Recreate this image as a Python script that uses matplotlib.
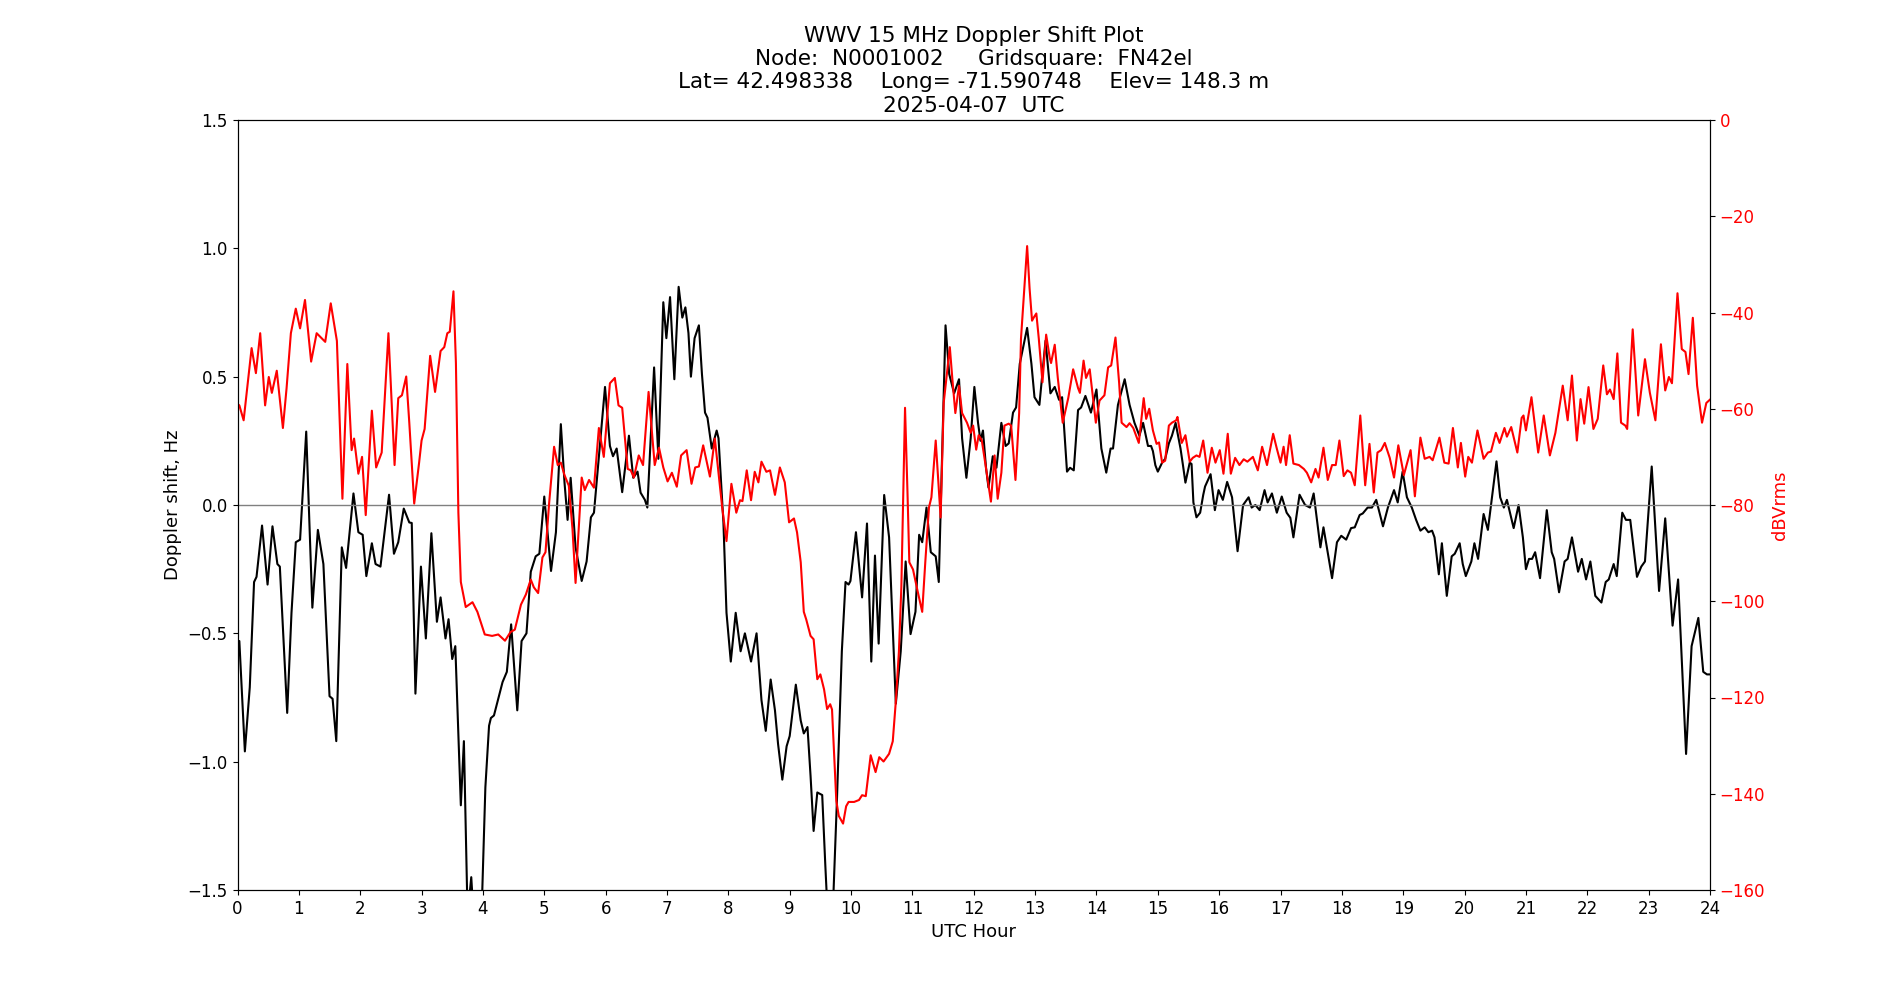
import matplotlib
matplotlib.use("Agg")
import matplotlib.pyplot as plt

# ---- Doppler shift (Hz) ----
dop_hours = [0.00, 0.03, 0.12, 0.20, 0.27, 0.31, 0.40, 0.49, 0.57, 0.65, 0.69, 0.81, 0.88, 0.95, 1.02, 1.12,
             1.22, 1.31, 1.40, 1.50, 1.55, 1.61, 1.70, 1.77, 1.89, 1.97, 2.04, 2.10, 2.19, 2.25, 2.33, 2.47,
             2.55, 2.62, 2.71, 2.80, 2.84, 2.90, 2.99, 3.07, 3.16, 3.25, 3.31, 3.39, 3.44, 3.50, 3.55, 3.64,
             3.69, 3.75, 3.81, 3.86, 3.95, 3.99, 4.04, 4.10, 4.13, 4.18, 4.32, 4.39, 4.46, 4.56, 4.63, 4.71,
             4.78, 4.86, 4.92, 5.00, 5.11, 5.19, 5.27, 5.33, 5.38, 5.43, 5.51, 5.61, 5.69, 5.76, 5.81, 5.99,
             6.07, 6.12, 6.18, 6.27, 6.38, 6.45, 6.52, 6.57, 6.64, 6.68, 6.79, 6.86, 6.94, 6.99, 7.05, 7.12,
             7.19, 7.25, 7.30, 7.35, 7.39, 7.45, 7.52, 7.57, 7.62, 7.66, 7.73, 7.81, 7.84, 7.92, 7.97, 8.04,
             8.12, 8.20, 8.27, 8.37, 8.46, 8.54, 8.61, 8.69, 8.76, 8.81, 8.88, 8.95, 9.00, 9.10, 9.18, 9.23,
             9.29, 9.34, 9.39, 9.45, 9.53, 9.58, 9.62, 9.70, 9.77, 9.85, 9.91, 9.96, 9.99, 10.08, 10.18, 10.26,
             10.33, 10.39, 10.45, 10.54, 10.62, 10.73, 10.81, 10.89, 10.97, 11.05, 11.11, 11.16, 11.23, 11.30,
             11.38, 11.43, 11.54, 11.60, 11.68, 11.76, 11.81, 11.88, 11.95, 12.01, 12.07, 12.11, 12.15, 12.20,
             12.24, 12.31, 12.37, 12.45, 12.52, 12.57, 12.64, 12.69, 12.75, 12.87, 12.94, 12.99, 13.07, 13.17,
             13.25, 13.32, 13.39, 13.44, 13.52, 13.57, 13.63, 13.70, 13.75, 13.82, 13.91, 14.00, 14.08, 14.16,
             14.23, 14.27, 14.35, 14.46, 14.54, 14.62, 14.70, 14.76, 14.84, 14.89, 14.92, 14.96, 15.00, 15.07,
             15.12, 15.18, 15.23, 15.29, 15.37, 15.41, 15.45, 15.52, 15.55, 15.58, 15.63, 15.69, 15.74, 15.77,
             15.86, 15.93, 15.99, 16.06, 16.13, 16.21, 16.30, 16.39, 16.48, 16.53, 16.59, 16.66, 16.74, 16.79,
             16.86, 16.94, 17.02, 17.10, 17.16, 17.21, 17.31, 17.40, 17.48, 17.54, 17.65, 17.70, 17.84, 17.92,
             17.99, 18.07, 18.15, 18.21, 18.29, 18.34, 18.42, 18.49, 18.56, 18.67, 18.75, 18.85, 18.91, 18.99,
             19.06, 19.14, 19.21, 19.28, 19.35, 19.41, 19.47, 19.51, 19.58, 19.63, 19.71, 19.79, 19.84, 19.92,
             19.97, 20.02, 20.11, 20.16, 20.22, 20.31, 20.38, 20.52, 20.58, 20.64, 20.69, 20.80, 20.88, 20.95,
             21.00, 21.05, 21.10, 21.15, 21.23, 21.34, 21.42, 21.46, 21.54, 21.63, 21.68, 21.75, 21.85, 21.91,
             21.98, 22.05, 22.13, 22.23, 22.30, 22.35, 22.43, 22.48, 22.57, 22.63, 22.70, 22.81, 22.88, 22.94,
             23.05, 23.17, 23.27, 23.39, 23.48, 23.61, 23.70, 23.81, 23.89, 23.95, 24.00]
dop_hz = [-0.53, -0.53, -0.96, -0.71, -0.30, -0.28, -0.08, -0.31, -0.083, -0.23, -0.24, -0.81, -0.42, -0.145, -0.135, 0.286,
          -0.40, -0.097, -0.23, -0.745, -0.755, -0.92, -0.165, -0.245, 0.045, -0.106, -0.116, -0.277, -0.149, -0.23, -0.24, 0.04,
          -0.19, -0.145, -0.014, -0.068, -0.07, -0.735, -0.24, -0.52, -0.11, -0.455, -0.36, -0.52, -0.445, -0.60, -0.55, -1.17,
          -0.92, -1.60, -1.45, -1.65, -1.65, -1.50, -1.10, -0.86, -0.83, -0.82, -0.69, -0.65, -0.465, -0.80, -0.53, -0.50,
          -0.26, -0.20, -0.19, 0.033, -0.257, -0.106, 0.315, 0.087, -0.058, 0.106, -0.165, -0.296, -0.22, -0.048, -0.03, 0.46,
          0.23, 0.19, 0.22, 0.05, 0.27, 0.106, 0.13, 0.048, 0.02, -0.01, 0.536, 0.18, 0.79, 0.65, 0.81, 0.49,
          0.85, 0.73, 0.77, 0.67, 0.50, 0.65, 0.70, 0.51, 0.36, 0.34, 0.22, 0.29, 0.26, -0.068, -0.42, -0.61,
          -0.42, -0.57, -0.50, -0.61, -0.50, -0.76, -0.88, -0.68, -0.80, -0.93, -1.07, -0.94, -0.90, -0.70, -0.84, -0.89,
          -0.865, -1.055, -1.27, -1.12, -1.13, -1.40, -1.60, -1.60, -1.15, -0.57, -0.30, -0.31, -0.296, -0.106, -0.36, -0.072,
          -0.61, -0.197, -0.54, 0.039, -0.126, -0.774, -0.57, -0.22, -0.503, -0.416, -0.116, -0.145, -0.01, -0.184,
          -0.20, -0.30, 0.70, 0.51, 0.435, 0.49, 0.26, 0.106, 0.26, 0.46, 0.32, 0.25, 0.29, 0.145,
          0.068, 0.19, 0.145, 0.32, 0.23, 0.24, 0.36, 0.38, 0.55, 0.69, 0.55, 0.42, 0.39, 0.64,
          0.435, 0.46, 0.41, 0.42, 0.13, 0.145, 0.135, 0.37, 0.38, 0.425, 0.36, 0.45, 0.22, 0.126,
          0.22, 0.22, 0.39, 0.49, 0.39, 0.32, 0.27, 0.32, 0.23, 0.23, 0.21, 0.155, 0.13, 0.165,
          0.18, 0.24, 0.27, 0.32, 0.22, 0.155, 0.087, 0.165, 0.16, 0.01, -0.048, -0.03, 0.039, 0.072,
          0.12, -0.02, 0.058, 0.02, 0.09, 0.03, -0.18, 0.0, 0.03, -0.01, 0.0, -0.02, 0.058, 0.01,
          0.045, -0.03, 0.033, -0.03, -0.05, -0.126, 0.04, 0.0, -0.01, 0.045, -0.165, -0.087, -0.285, -0.145,
          -0.12, -0.135, -0.09, -0.087, -0.039, -0.033, -0.01, -0.01, 0.02, -0.083, -0.01, 0.058, 0.01, 0.13,
          0.03, -0.01, -0.058, -0.10, -0.087, -0.106, -0.10, -0.126, -0.27, -0.149, -0.354, -0.20, -0.19, -0.149,
          -0.23, -0.277, -0.22, -0.149, -0.21, -0.035, -0.097, 0.17, 0.03, -0.01, 0.02, -0.09, 0.0, -0.126,
          -0.25, -0.21, -0.21, -0.184, -0.285, -0.02, -0.184, -0.21, -0.34, -0.22, -0.21, -0.126, -0.26, -0.21,
          -0.29, -0.22, -0.354, -0.38, -0.30, -0.29, -0.23, -0.277, -0.03, -0.058, -0.058, -0.28, -0.24, -0.22,
          0.15, -0.335, -0.052, -0.47, -0.29, -0.97, -0.55, -0.44, -0.65, -0.66, -0.66]

# ---- Signal level (dBVrms) ----
amp_hours = [0.00, 0.03, 0.10, 0.23, 0.30, 0.37, 0.45, 0.51, 0.56, 0.64, 0.74, 0.80, 0.87, 0.95, 1.02, 1.10,
             1.20, 1.29, 1.43, 1.52, 1.62, 1.71, 1.79, 1.86, 1.90, 1.97, 2.03, 2.09, 2.19, 2.26, 2.35, 2.46,
             2.56, 2.62, 2.68, 2.75, 2.80, 2.88, 2.96, 3.00, 3.05, 3.14, 3.22, 3.31, 3.37, 3.42, 3.46, 3.52,
             3.56, 3.60, 3.64, 3.72, 3.83, 3.91, 4.03, 4.15, 4.25, 4.36, 4.45, 4.52, 4.62, 4.70, 4.78, 4.83,
             4.90, 4.97, 5.02, 5.08, 5.16, 5.22, 5.27, 5.33, 5.40, 5.46, 5.51, 5.61, 5.66, 5.73, 5.81, 5.89,
             5.97, 6.07, 6.15, 6.21, 6.27, 6.36, 6.41, 6.46, 6.54, 6.61, 6.70, 6.80, 6.87, 6.94, 7.01, 7.08,
             7.16, 7.23, 7.32, 7.40, 7.46, 7.52, 7.59, 7.70, 7.78, 7.84, 7.90, 7.97, 8.05, 8.13, 8.19, 8.23,
             8.30, 8.37, 8.43, 8.49, 8.54, 8.62, 8.68, 8.76, 8.84, 8.92, 8.99, 9.07, 9.12, 9.18, 9.23, 9.27,
             9.34, 9.39, 9.45, 9.50, 9.56, 9.61, 9.66, 9.69, 9.76, 9.80, 9.87, 9.92, 9.96, 10.05, 10.13, 10.18,
             10.24, 10.32, 10.40, 10.46, 10.53, 10.62, 10.68, 10.73, 10.78, 10.82, 10.88, 10.92, 10.95, 11.01,
             11.08, 11.16, 11.21, 11.27, 11.31, 11.38, 11.46, 11.51, 11.61, 11.65, 11.70, 11.76, 11.81, 11.89,
             11.95, 11.99, 12.04, 12.08, 12.13, 12.19, 12.28, 12.34, 12.39, 12.45, 12.50, 12.57, 12.61, 12.68,
             12.74, 12.77, 12.87, 12.91, 12.95, 12.98, 13.02, 13.06, 13.12, 13.18, 13.24, 13.26, 13.32, 13.37,
             13.45, 13.54, 13.62, 13.70, 13.73, 13.79, 13.83, 13.89, 13.99, 14.05, 14.13, 14.19, 14.24, 14.31,
             14.37, 14.41, 14.49, 14.54, 14.60, 14.69, 14.77, 14.81, 14.86, 14.92, 14.98, 15.02, 15.07, 15.12,
             15.18, 15.23, 15.30, 15.32, 15.39, 15.45, 15.52, 15.57, 15.63, 15.68, 15.74, 15.81, 15.88, 15.94,
             16.01, 16.07, 16.14, 16.19, 16.26, 16.33, 16.40, 16.46, 16.55, 16.63, 16.70, 16.78, 16.88, 16.94,
             17.00, 17.05, 17.09, 17.15, 17.21, 17.30, 17.38, 17.43, 17.50, 17.57, 17.62, 17.70, 17.77, 17.84,
             17.90, 17.96, 18.03, 18.09, 18.15, 18.21, 18.30, 18.38, 18.45, 18.52, 18.58, 18.64, 18.70, 18.78,
             18.85, 18.92, 19.01, 19.12, 19.19, 19.28, 19.35, 19.43, 19.48, 19.59, 19.67, 19.74, 19.81, 19.89,
             19.94, 20.01, 20.06, 20.12, 20.21, 20.31, 20.38, 20.43, 20.51, 20.57, 20.65, 20.69, 20.76, 20.86,
             20.93, 20.96, 21.00, 21.09, 21.20, 21.29, 21.39, 21.48, 21.60, 21.68, 21.75, 21.83, 21.89, 21.95,
             22.02, 22.10, 22.17, 22.26, 22.32, 22.37, 22.43, 22.49, 22.55, 22.62, 22.65, 22.74, 22.83, 22.94,
             23.02, 23.11, 23.20, 23.27, 23.33, 23.38, 23.47, 23.54, 23.60, 23.65, 23.72, 23.79, 23.87, 23.94,
             24.00]
amp_db = [-59.0, -59.3, -62.4, -47.4, -52.6, -44.3, -59.3, -53.4, -56.7, -52.1, -64.0, -55.7, -44.3, -39.2, -43.3, -37.4,
          -50.2, -44.3, -46.1, -38.1, -45.9, -78.7, -50.7, -68.6, -66.2, -73.5, -70.0, -82.1, -60.4, -72.2, -69.1, -44.3,
          -71.7, -57.8, -57.2, -53.3, -62.9, -79.7, -71.2, -66.6, -64.2, -49.0, -56.5, -48.0, -47.2, -44.3, -44.0, -35.6,
          -50.5, -81.6, -96.0, -101.2, -100.2, -102.2, -106.9, -107.2, -106.9, -108.2, -106.4, -105.9, -100.7, -98.6, -95.5, -97.1,
          -98.3, -90.9, -89.8, -79.5, -67.9, -71.7, -71.2, -73.8, -76.0, -85.0, -96.2, -74.3, -76.9, -74.8, -76.4, -64.0,
          -70.0, -54.7, -53.6, -59.3, -59.8, -72.5, -72.8, -74.3, -69.7, -71.7, -56.5, -71.7, -68.1, -72.2, -75.1, -73.3,
          -76.2, -69.7, -68.6, -75.6, -72.2, -72.0, -67.6, -74.1, -66.2, -73.3, -80.5, -87.5, -75.6, -81.6, -79.0, -79.2,
          -72.8, -79.0, -73.1, -75.3, -71.0, -73.1, -72.8, -77.9, -72.2, -75.3, -83.6, -82.8, -85.7, -91.9, -102.2, -103.8,
          -107.2, -107.9, -116.2, -115.2, -118.3, -122.4, -121.4, -122.5, -141.5, -144.6, -146.2, -142.6, -141.7, -141.7, -141.3, -140.3,
          -140.5, -132.0, -135.5, -132.4, -133.3, -131.7, -129.1, -120.8, -110.5, -97.0, -59.8, -77.4, -91.9, -93.4,
          -97.6, -102.2, -91.9, -80.5, -78.4, -66.6, -82.6, -58.8, -47.2, -53.6, -60.9, -55.2, -60.9, -62.9,
          -65.0, -63.5, -68.5, -65.5, -66.5, -71.5, -79.3, -69.7, -78.7, -73.3, -63.5, -63.1, -63.5, -74.8,
          -60.9, -45.4, -26.2, -35.0, -41.7, -41.0, -40.2, -45.4, -54.5, -44.6, -49.5, -50.5, -46.7, -53.6,
          -62.9, -57.8, -51.8, -55.7, -56.7, -50.0, -53.6, -51.8, -62.9, -58.3, -57.2, -51.4, -51.0, -45.2,
          -54.7, -62.9, -63.8, -63.0, -64.0, -67.1, -57.8, -62.1, -60.0, -64.5, -67.3, -67.0, -71.2, -70.8,
          -63.5, -62.9, -62.4, -61.7, -67.1, -65.5, -71.0, -70.2, -69.7, -70.0, -66.6, -73.3, -68.1, -71.2,
          -68.6, -73.5, -65.2, -73.5, -70.2, -71.7, -70.5, -71.0, -70.0, -72.8, -67.9, -71.7, -65.2, -68.3,
          -71.2, -67.9, -71.7, -65.5, -71.4, -71.7, -72.5, -73.3, -75.3, -72.5, -74.3, -68.1, -74.8, -71.7,
          -71.7, -66.6, -74.0, -72.8, -73.3, -75.9, -61.4, -75.9, -67.3, -77.4, -69.1, -68.6, -67.1, -70.2,
          -74.3, -67.6, -73.8, -68.6, -78.2, -66.0, -70.4, -70.0, -70.7, -66.0, -71.2, -71.4, -64.0, -72.2,
          -67.1, -74.1, -70.0, -71.2, -64.5, -70.4, -69.1, -68.9, -65.0, -67.1, -64.0, -65.8, -63.8, -69.1,
          -61.9, -61.4, -64.5, -57.6, -69.1, -61.4, -69.7, -65.0, -55.2, -62.4, -53.1, -66.6, -58.0, -63.1,
          -55.5, -64.2, -62.1, -51.0, -57.0, -56.0, -58.0, -48.5, -62.9, -63.5, -64.2, -43.5, -61.4, -49.7,
          -56.7, -62.4, -46.6, -56.2, -53.4, -54.7, -36.0, -47.6, -48.2, -52.8, -41.1, -55.2, -62.9, -58.8,
          -58.1]

hour_ticks = list(range(0, 25))
hz_ticks = [-1.5, -1.0, -0.5, 0.0, 0.5, 1.0, 1.5]
db_ticks = [-160, -140, -120, -100, -80, -60, -40, -20, 0]

title_lines = ["WWV 15 MHz Doppler Shift Plot",
               "Node:  N0001002     Gridsquare:  FN42el",
               "Lat= 42.498338    Long= -71.590748    Elev= 148.3 m",
               "2025-04-07  UTC"]

plt.rcParams['font.family'] = ['DejaVu Sans']
fig = plt.figure(figsize=(19, 10), dpi=100)
ax = fig.add_subplot(111)

ax.plot(dop_hours, dop_hz, color='black', linewidth=1.5)
ax.axhline(0, color='gray', linewidth=1)
ax.set_xlim(0, 24)
ax.set_ylim(-1.5, 1.5)
ax.set_xticks(hour_ticks)
ax.set_yticks(hz_ticks)
ax.tick_params(labelsize=12)
ax.set_xlabel("UTC Hour", fontsize=13)
ax.set_ylabel("Doppler shift, Hz", fontsize=13)
ax.set_title("\n".join(title_lines), fontsize=15.5)

ax2 = ax.twinx()
ax2.plot(amp_hours, amp_db, color='red', linewidth=1.5)
ax2.set_ylim(-160, 0)
ax2.set_yticks(db_ticks)
ax2.tick_params(axis='y', labelsize=12, labelcolor='red')
ax2.set_ylabel("dBVrms", color='red', fontsize=13)

fig.savefig("out.png", dpi=100)
